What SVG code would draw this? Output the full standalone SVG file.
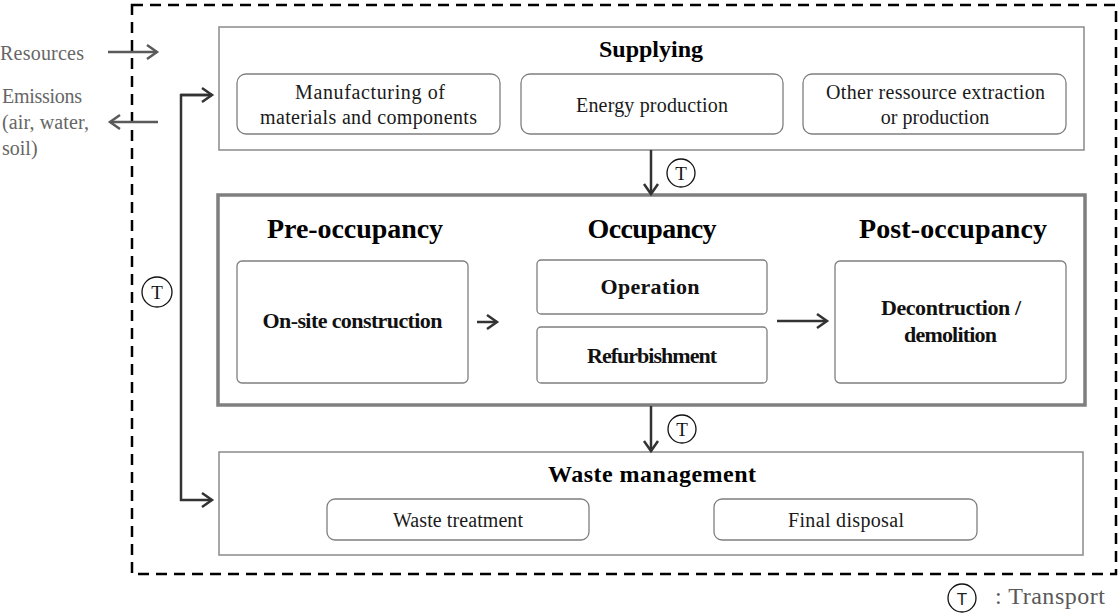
<svg xmlns="http://www.w3.org/2000/svg" width="1119" height="614" viewBox="0 0 1119 614">
<style>
text{font-family:"Liberation Serif","Times New Roman",serif;}
.box{fill:#fff;stroke:#8a8a8a;stroke-width:1.5;}
.sub{fill:#fff;stroke:#7f7f7f;stroke-width:1.3;}
.main{fill:#fff;stroke:#7f7f7f;stroke-width:3.5;}
.t{font-size:20px;fill:#1a1a1a;text-anchor:middle;}
.tb{font-size:22px;font-weight:bold;fill:#111;text-anchor:middle;}
.h{font-size:24px;font-weight:bold;fill:#000;text-anchor:middle;}
.ph{font-size:28px;font-weight:bold;fill:#000;text-anchor:middle;}
.g{font-size:20px;fill:#666;}
.dk{fill:none;stroke:#333;stroke-width:2.5;}
.gr{fill:none;stroke:#5a5a5a;stroke-width:2.5;}
.circ{fill:#fff;stroke:#111;stroke-width:1.3;}
.ct{font-size:19px;fill:#111;text-anchor:middle;}
</style>
<defs>
<marker id="ad" markerUnits="userSpaceOnUse" markerWidth="16" markerHeight="18" refX="13" refY="9" orient="auto">
<path d="M3,2 L13,9 L3,16" fill="none" stroke="#333" stroke-width="2.5"/>
</marker>
<marker id="ag" markerUnits="userSpaceOnUse" markerWidth="16" markerHeight="18" refX="13" refY="9" orient="auto">
<path d="M3,2 L13,9 L3,16" fill="none" stroke="#5a5a5a" stroke-width="2.5"/>
</marker>
</defs>

<g id="boundary">
<rect x="132" y="5" width="984" height="569" fill="none" stroke="#000" stroke-width="2.5" stroke-dasharray="11 7"/>
</g>

<g id="inputs">
<text class="g" x="0" y="60" textLength="84">Resources</text>
<text class="g" x="2" y="103" textLength="80">Emissions</text>
<text class="g" x="2" y="129" textLength="87">(air, water,</text>
<text class="g" x="2" y="155">soil)</text>
</g>

<g id="supplying">
<rect class="box" x="219" y="27" width="865" height="123"/>
<text class="h" x="651" y="57" textLength="104">Supplying</text>
</g>
<g id="manufacturing">
<rect class="sub" x="237" y="74" width="263" height="60" rx="9"/>
<text class="t" x="370" y="99" textLength="150">Manufacturing of</text>
<text class="t" x="368.5" y="124" textLength="217">materials and components</text>
</g>
<g id="energy">
<rect class="sub" x="521" y="74" width="262" height="60" rx="9"/>
<text class="t" x="652" y="112" textLength="152">Energy production</text>
</g>
<g id="other">
<rect class="sub" x="803" y="74" width="263" height="60" rx="9"/>
<text class="t" x="935.5" y="99" textLength="219">Other ressource extraction</text>
<text class="t" x="935" y="124">or production</text>
</g>

<g id="building">
<rect class="main" x="218" y="195" width="867" height="210"/>
<text class="ph" x="355" y="238" textLength="176">Pre-occupancy</text>
<text class="ph" x="652" y="238" textLength="129">Occupancy</text>
<text class="ph" x="953" y="238" textLength="188">Post-occupancy</text>
</g>
<g id="onsite">
<rect class="sub" x="237" y="261" width="231" height="122" rx="5"/>
<text class="tb" x="352.5" y="328" textLength="180">On-site construction</text>
</g>
<g id="operation">
<rect class="sub" x="537" y="260" width="230" height="54" rx="4"/>
<text class="tb" x="650" y="294" textLength="99">Operation</text>
</g>
<g id="refurbishment">
<rect class="sub" x="537" y="327" width="230" height="56" rx="4"/>
<text class="tb" x="652" y="363" textLength="130">Refurbishment</text>
</g>
<g id="deconstruction">
<rect class="sub" x="835" y="261" width="231" height="122" rx="5"/>
<text class="tb" x="951" y="315" textLength="140">Decontruction /</text>
<text class="tb" x="950.5" y="342" textLength="93">demolition</text>
</g>

<g id="waste">
<rect class="box" x="219" y="452" width="864" height="103"/>
<text class="h" x="652" y="482" textLength="208">Waste management</text>
</g>
<g id="treatment">
<rect class="sub" x="327" y="499" width="262" height="41" rx="8"/>
<text class="t" x="458" y="527" textLength="130">Waste treatment</text>
</g>
<g id="disposal">
<rect class="sub" x="714" y="499" width="263" height="41" rx="8"/>
<text class="t" x="846" y="527" textLength="116">Final disposal</text>
</g>

<g id="connectors">
<line class="gr" x1="108" y1="52" x2="157" y2="52" marker-end="url(#ag)"/>
<line class="gr" x1="158" y1="122" x2="110" y2="122" marker-end="url(#ag)"/>
<polyline class="dk" points="212,95 181,95 181,500 212,500" marker-end="url(#ad)"/>
<line class="dk" x1="181" y1="95" x2="212" y2="95" marker-end="url(#ad)"/>
<line class="dk" x1="651" y1="150" x2="651" y2="194" marker-end="url(#ad)"/>
<line class="dk" x1="651" y1="406" x2="651" y2="451" marker-end="url(#ad)"/>
<line class="dk" x1="477" y1="322" x2="497" y2="322" marker-end="url(#ad)"/>
<line class="dk" x1="777" y1="321" x2="827" y2="321" marker-end="url(#ad)"/>
</g>

<g id="transport-marks">
<circle class="circ" cx="681" cy="173" r="14"/>
<text class="ct" x="681" y="180">T</text>
<circle class="circ" cx="682" cy="429" r="14"/>
<text class="ct" x="682" y="436">T</text>
<circle class="circ" cx="157" cy="292" r="15"/>
<text class="ct" x="157" y="299">T</text>
</g>

<g id="legend">
<circle class="circ" cx="962" cy="598" r="14"/>
<text x="962" y="605" style="font-family:'Liberation Sans',Arial,sans-serif;font-size:17px;fill:#222;text-anchor:middle">T</text>
<text x="995" y="604" textLength="110" style="font-size:24px;fill:#595959">: Transport</text>
</g>
</svg>
